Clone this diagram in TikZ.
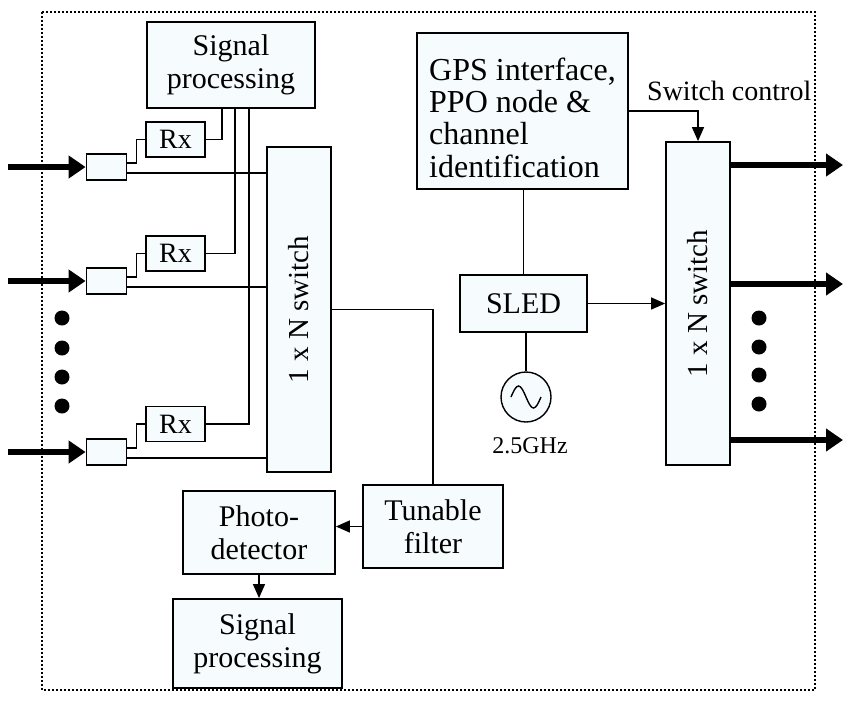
\documentclass[tikz,border=0pt]{standalone}
\usepackage{fontspec}
\setmainfont{Liberation Serif}
\usepackage{tikz}
\usetikzlibrary{arrows.meta}
\definecolor{boxfill}{RGB}{246,251,253}

\begin{document}
\begin{tikzpicture}[x=1pt, y=-1pt,
    block/.style={draw, line width=1.8pt, fill=boxfill, inner sep=0pt, align=center, font=\fontsize{30}{33}\selectfont},
    wire/.style={line width=1.4pt},
    sig/.style={wire, -{Triangle[length=14pt,width=12pt]}},
    fat/.style={line width=6pt, -{Triangle[length=17pt,width=22pt]}},
    dot/.style={circle, fill=black, inner sep=0pt, minimum size=15pt}]
        \useasboundingbox (0,0) rectangle (843,702);

        % Dotted frame
        \draw[line width=1.6pt, dash pattern=on 1.6pt off 2.4pt] (42,12) rectangle (815,690);

        % Receive side
        \node[block, minimum width=168pt, minimum height=86pt] (sp1) at (231,65) {Signal\\processing};
        \node[block, minimum width=64pt, minimum height=325pt, font=\fontsize{29}{33}\selectfont] (sw1) at (299,309.5) {\rotatebox{90}{1 x N switch}};
        \foreach \i/\yc/\yr in {1/167/139.5, 2/281/253.5, 3/452/424} {
            \node[block, minimum width=40pt, minimum height=26pt] (cp\i) at (106.5,\yc) {};
            \node[block, minimum width=59pt, minimum height=35pt, font=\fontsize{28}{33}\selectfont] (rx\i) at (175.5,\yr) {Rx};
            \coordinate (in\i) at (8,\yc);
        }
        \foreach \i/\dx in {1/-9, 2/4, 3/18} {
            \draw[fat] (in\i) -- (cp\i.west);
            \draw[wire] ([yshift=4pt]cp\i.east) -- ++(9,0) |- (rx\i.west);
            \draw[wire] (rx\i.east) -| ([xshift=\dx pt]sp1.south);
            \draw[wire] ([yshift=-6pt]cp\i.east) coordinate (lo\i) -- (lo\i -| sw1.west);
        }
        \foreach \k/\y in {1/318, 2/348, 3/377, 4/406}
            \node[dot] (ldot\k) at (62,\y) {};

        % Filter and detection
        \node[block, minimum width=140pt, minimum height=83pt] (tf) at (433,526.5) {Tunable\\filter};
        \node[block, minimum width=152pt, minimum height=83pt] (pd) at (259,532.5) {Photo-\\detector};
        \node[block, minimum width=169pt, minimum height=89pt] (sp2) at (257.5,643.5) {Signal\\processing};
        \draw[wire] (sw1.east) -| (tf.north);
        \draw[sig] (tf.west) -- (tf.west -| pd.east);
        \draw[sig] (pd.south) -- (pd.south |- sp2.north);

        % Transmit side
        \node[block, minimum width=211pt, minimum height=156pt, align=left, font=\fontsize{32}{32.3}\selectfont] (gps) at (522.5,111) {\rule{0pt}{36pt}GPS interface,\\PPO node \&\\channel\\identification};
        \node[block, minimum width=127pt, minimum height=57pt] (sled) at (523.5,303.5) {SLED};
        \node[block, minimum width=64pt, minimum height=323pt, font=\fontsize{29}{33}\selectfont] (sw2) at (698,303.5) {\rotatebox{90}{1 x N switch}};
        \node[draw, circle, line width=1.4pt, fill=boxfill, minimum size=50pt, inner sep=0pt] (osc) at (526,397) {};
        \draw[wire] ([xshift=-15pt]osc.center) sin ++(7.5,-11) cos ++(7.5,11) sin ++(7.5,11) cos ++(7.5,-11);
        \node[font=\fontsize{24}{28}\selectfont, anchor=base, inner sep=0pt] (freq) at (530,453) {2.5GHz};
        \node[font=\fontsize{28}{33}\selectfont, anchor=base west, inner sep=0pt] (ctl) at (647,100) {Switch control};

        \draw[wire] (sled.north |- gps.south) -- (sled.north);
        \draw[wire] (sled.south -| osc.north) -- (osc.north);
        \draw[sig] (sled.east) -- (sled.east -| sw2.west);
        \draw[sig] (gps.east) -| (sw2.north);
        \foreach \i/\y in {1/165, 2/284, 3/440} {
            \coordinate (out\i) at (843,\y);
            \draw[fat] (out\i -| sw2.east) -- (out\i);
        }
        \foreach \k/\y in {1/318, 2/347, 3/375, 4/404}
            \node[dot] (rdot\k) at (759,\y) {};
    \end{tikzpicture}
\end{document}
